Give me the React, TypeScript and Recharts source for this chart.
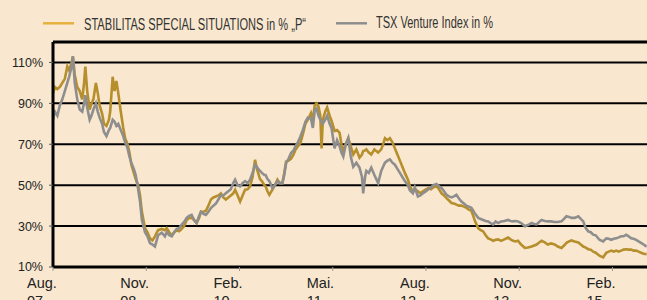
import {
  LineChart,
  Line,
  XAxis,
  YAxis,
  CartesianGrid,
  ReferenceLine,
} from "recharts";

// months since Aug. 2007
const months = [
  0.0, 0.3, 0.7, 1.1, 1.5, 1.9, 2.3, 2.6, 3.0, 3.2, 3.5, 3.9, 4.3, 4.7, 5.0, 5.2, 5.5, 5.9, 6.2, 6.5,
  6.9, 7.2, 7.5, 7.9, 8.2, 8.6, 9.0, 9.2, 9.6, 9.9, 10.2, 10.5, 10.9, 11.3, 11.6, 12.0, 12.3, 12.6, 13.0, 13.3,
  13.7, 14.0, 14.3, 14.8, 15.2, 15.6, 16.0, 16.4, 16.9, 17.5, 18.0, 18.3, 18.7, 19.1, 19.5, 19.9, 20.3, 20.7, 21.1, 21.5,
  21.9, 22.3, 22.7, 23.1, 23.5, 23.8, 24.2, 24.6, 25.0, 25.4, 25.8, 26.2, 26.6, 27.0, 27.4, 27.8, 28.2, 28.6, 29.0, 29.3,
  29.7, 30.1, 30.5, 30.9, 31.3, 31.7, 32.1, 32.5, 32.8, 33.0, 33.3, 33.6, 34.0, 34.2, 34.5, 34.8, 35.3, 35.7, 36.1, 36.5,
  36.9, 37.2, 37.5, 37.9, 38.3, 38.7, 39.0, 39.4, 39.8, 40.2, 40.6, 41.0, 41.5, 41.8, 42.1, 42.4, 42.7, 43.0, 43.2, 43.4,
  43.8, 44.1, 44.5, 44.8, 45.3, 45.7, 46.1, 46.4, 46.7, 47.1, 47.5, 47.9, 48.3, 48.8, 49.3, 49.7, 49.9, 50.2, 50.4, 50.8,
  51.2, 51.7, 52.3, 52.8, 53.1, 53.4, 53.8, 54.2, 54.6, 55.0, 55.4, 55.8, 56.2, 56.6, 57.1, 57.4, 57.9, 58.2, 58.7, 59.1,
  59.5, 60.0, 60.4, 60.8, 61.2, 61.7, 62.1, 62.5, 62.9, 63.3, 63.7, 64.1, 64.5, 64.9, 65.3, 65.7, 66.1, 66.5, 66.9, 67.3,
  67.6, 67.9, 68.4, 68.8, 69.2, 69.6, 70.0, 70.4, 70.8, 71.2, 71.6, 72.1, 72.6, 73.2, 73.6, 74.0, 74.4, 74.8, 75.3, 75.9,
  76.4, 77.0, 77.4, 77.8, 78.2, 78.6, 79.1, 79.6, 80.1, 80.7, 81.2, 81.8, 82.2, 82.6, 83.0, 83.4, 83.9, 84.5, 84.9, 85.3,
  85.7, 86.1, 86.5, 86.9, 87.3, 87.9, 88.5, 89.0, 89.4, 89.8, 90.2, 90.6, 91.0, 91.4, 91.8, 92.2, 92.6, 93.0, 93.4, 93.8,
  94.2, 94.6, 95.0, 95.5,
];

const stabilitas = [
  95, 98, 97, 98, 100, 102, 108, 106, 110, 113, 104, 98, 96, 92, 100, 108, 96, 87, 90, 92,
  100, 95, 89, 85, 80, 79, 82, 86, 103, 96, 101, 95, 86, 78, 73, 70, 66, 60, 56, 53,
  50, 45, 37, 29, 27, 24, 23, 25, 28, 28.6, 28, 29, 27, 25.5, 27, 28, 27.5, 28.6, 30, 33,
  34, 34, 33, 31.5, 34, 37, 37, 37.5, 40, 43, 44, 44.5, 45, 46, 44, 43, 44, 45, 46, 47.8,
  45, 42, 45, 47.8, 48, 49.4, 54, 62.4, 58, 56, 53, 52, 50, 49.4, 47, 45.3, 47.8, 50, 52.7, 51,
  51, 56, 61.6, 62, 63, 65, 67.3, 69, 70.7, 75, 80, 82, 85.3, 82, 89, 90, 88.6, 84, 68, 82,
  86, 88, 84, 81.5, 76.5, 77, 75.6, 70, 66.7, 70, 73, 69, 65, 67.5, 63.5, 65, 66.7, 67, 67.5, 66,
  65, 67.5, 66, 67.5, 70, 73, 72, 73, 71, 68, 65, 62, 59, 56, 52.7, 49.5, 47, 48, 47, 46,
  47, 48, 48.6, 48, 49, 49.5, 48, 46, 45, 43.7, 42.5, 41.3, 41, 40.5, 40, 40, 39.5, 39, 38, 37.5,
  35, 32.3, 29, 28, 27.4, 25.5, 24, 23.5, 22.8, 23.3, 23.5, 22.8, 23.5, 24.4, 23.5, 22.8, 22.5, 22.8, 21, 19.3,
  19.5, 20, 20.5, 21, 22, 22.8, 22, 21, 21.5, 21, 20, 19.3, 20.5, 21.8, 22.5, 23, 22.5, 22, 21, 20,
  19.5, 18.7, 18.5, 17.5, 17, 15.5, 14.7, 17, 17.5, 18, 17.5, 18, 17.5, 18, 18.5, 18.7, 18.5, 18.5, 18, 18,
  17.5, 17, 16.5, 16.3,
];

const tsxVenture = [
  82, 86, 84, 89, 92, 96, 100, 103, 108, 113, 100, 92, 87, 86, 90, 94, 88, 82, 84, 87,
  90, 86, 83, 80, 76, 74, 77, 78, 82, 81, 79, 80, 77, 74, 71, 68, 64, 61, 58, 55,
  48, 42, 33, 27, 25, 21.7, 21, 20, 25.5, 26.8, 25, 27, 25.5, 25, 27, 28.6, 29, 30.7, 32, 34,
  35, 35.5, 33, 31.5, 35, 37, 36, 35.5, 37, 38.8, 40, 41, 43, 45, 45, 46, 47, 48, 51, 52.7,
  50, 49.4, 51, 52, 51, 52.7, 56, 60, 59, 58, 57, 56, 55, 55, 53, 52, 48.6, 50, 52, 51,
  51, 55, 60.8, 63, 65.7, 67, 69, 71, 73.8, 77, 81, 83, 82.5, 78, 86.5, 87.5, 84, 82, 81, 80,
  82, 84, 80, 78, 68, 72, 69, 66, 64, 70, 73, 64, 59, 61, 58.6, 54, 46, 54, 57, 56,
  58.6, 55, 51, 57, 59, 61, 62, 62.6, 61, 60, 58, 56, 54, 52, 50, 47.5, 46, 49, 44.5, 45,
  46, 47, 48, 49, 50, 50.6, 49.5, 48.6, 47, 45.3, 44.5, 44, 44.5, 45.3, 43.5, 42, 41, 40, 39.5, 39,
  37.5, 36, 34, 33.5, 33, 32.5, 32.3, 31.5, 30.8, 32.3, 31.5, 32.3, 32.5, 33, 32.5, 32.3, 32.5, 32.3, 31.5, 29.9,
  30.5, 31.5, 31, 30.8, 32, 33, 32.5, 32.3, 32.3, 32, 32, 32.3, 33.5, 34.8, 34.5, 34, 34, 34.8, 33.5, 32.3,
  29, 27.4, 27, 25.8, 25.5, 23.3, 22.5, 24, 23.8, 23.3, 23.8, 24, 24.5, 25, 25, 25.8, 25, 24, 23.8, 23.3,
  22.5, 21.8, 21, 20,
];

const tickMonths = [0, 15, 30, 45, 60, 75, 90];
const tickMonthLabels = ["Aug.", "Nov.", "Feb.", "Mai.", "Aug.", "Nov.", "Feb."];
const tickYearLabels = ["07", "08", "10", "11", "12", "13", "15"];
const yTicks = [10, 30, 50, 70, 90, 110];

const data = months.map((t, i) => ({
  t,
  stabilitas: stabilitas[i],
  tsx: tsxVenture[i],
}));

const BG = "#f9e8cf";
const GOLD = "#b68e2b";
const GOLD_LEGEND = "#e6b03e";
const GRAY = "#8e8e8e";
const FONT = "'Liberation Sans', Arial, sans-serif";

function MonthTick(props: any) {
  const { x, y, payload } = props;
  const i = tickMonths.indexOf(payload.value);
  return (
    <g>
      <text x={x - 26} y={y + 15} fontSize={14.5} fontFamily={FONT} fill="#222">
        {tickMonthLabels[i]}
      </text>
      <text x={x - 26} y={y + 33} fontSize={14.5} fontFamily={FONT} fill="#222">
        {tickYearLabels[i]}
      </text>
    </g>
  );
}

export default function App() {
  return (
    <div
      style={{
        position: "fixed",
        left: 0,
        top: 0,
        width: 647,
        height: 300,
        overflow: "hidden",
        background: BG,
      }}
    >
      <svg width={647} height={42} style={{ position: "absolute", left: 0, top: 0 }}>
        <line x1={43} x2={74} y1={23.3} y2={23.3} stroke={GOLD_LEGEND} strokeWidth={2.5} />
        <text
          x={84}
          y={29.5}
          fontSize={16}
          fontFamily={FONT}
          fill="#333"
          textLength={222}
          lengthAdjust="spacingAndGlyphs"
        >
          STABILITAS SPECIAL SITUATIONS in % „P“
        </text>
        <line x1={336} x2={367} y1={23.3} y2={23.3} stroke={GRAY} strokeWidth={2.5} />
        <text
          x={376}
          y={28}
          fontSize={16}
          fontFamily={FONT}
          fill="#333"
          textLength={117}
          lengthAdjust="spacingAndGlyphs"
        >
          TSX Venture Index in %
        </text>
      </svg>
      <div style={{ position: "absolute", left: 0, top: 0 }}>
        <LineChart
          width={656}
          height={300}
          data={data}
          margin={{ top: 42, right: 0, bottom: 0, left: 0 }}
        >
          <CartesianGrid vertical={false} stroke="#000" strokeWidth={2} />
          <ReferenceLine y={120} stroke="#000" strokeWidth={3} />
          <XAxis
            dataKey="t"
            type="number"
            domain={[0, 97]}
            ticks={tickMonths}
            height={33}
            tick={<MonthTick />}
            tickSize={4}
            tickMargin={2}
            axisLine={{ stroke: "#000", strokeWidth: 3 }}
            tickLine={{ stroke: "#999" }}
            allowDataOverflow
          />
          <YAxis
            type="number"
            domain={[10, 120]}
            ticks={yTicks}
            width={53}
            tickFormatter={(v) => `${v}%`}
            tick={{ fontSize: 12.5, fill: "#222", fontFamily: FONT }}
            tickSize={4}
            tickMargin={6}
            axisLine={{ stroke: "#000", strokeWidth: 3 }}
            tickLine={{ stroke: "#555" }}
            allowDataOverflow
          />
          <Line
            type="linear"
            dataKey="stabilitas"
            stroke={GOLD}
            strokeWidth={2.6}
            dot={false}
            isAnimationActive={false}
          />
          <Line
            type="linear"
            dataKey="tsx"
            stroke={GRAY}
            strokeWidth={2.6}
            dot={false}
            isAnimationActive={false}
          />
        </LineChart>
      </div>
    </div>
  );
}
